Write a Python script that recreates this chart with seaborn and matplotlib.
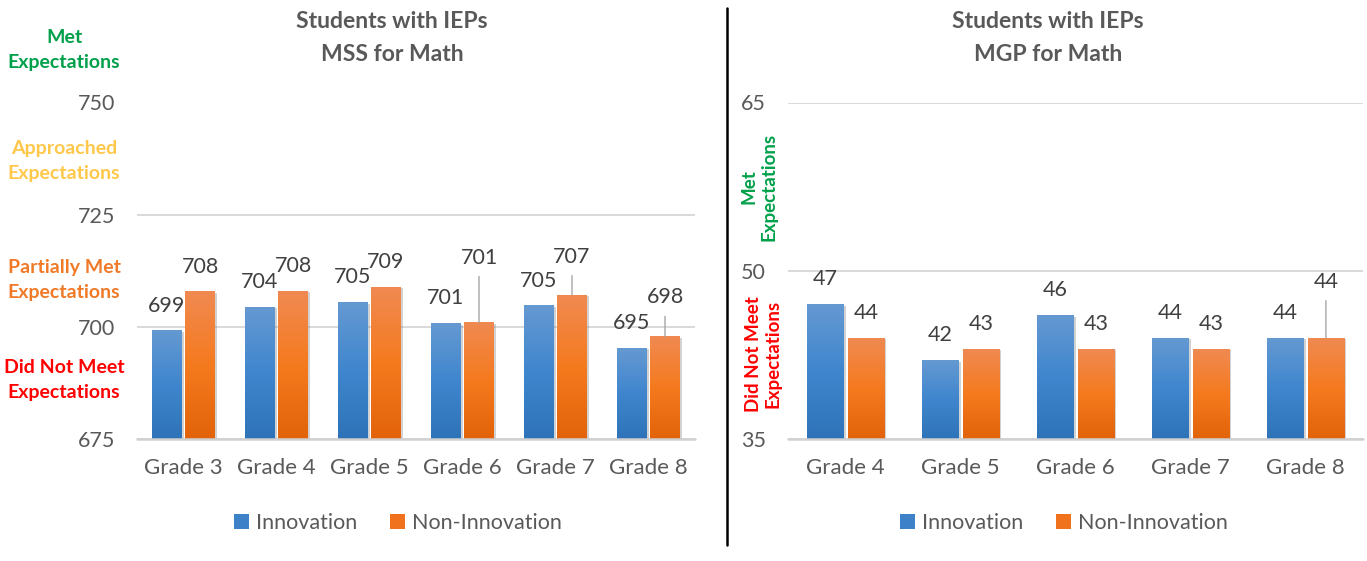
import numpy as np
import pandas as pd
import matplotlib
matplotlib.use("Agg")
import matplotlib.pyplot as plt
import seaborn as sns
from matplotlib.colors import LinearSegmentedColormap
from matplotlib.patches import Patch
from matplotlib.lines import Line2D
import matplotlib.patheffects as pe

# ---------------- data ----------------
series_names = ["Innovation", "Non-Innovation"]

mss_grades = ["Grade 3", "Grade 4", "Grade 5", "Grade 6", "Grade 7", "Grade 8"]
mss_innovation = [699.1, 704.4, 705.4, 700.7, 704.7, 695.3]
mss_non_innovation = [707.8, 708.0, 708.9, 700.9, 707.1, 697.8]
mss_ticks = [675, 700, 725, 750]

mgp_grades = ["Grade 4", "Grade 5", "Grade 6", "Grade 7", "Grade 8"]
mgp_innovation = [47, 42, 46, 44, 44]
mgp_non_innovation = [44, 43, 43, 43, 44]
mgp_ticks = [35, 50, 65]

# extra label lift (pixels) for labels moved up with leader lines
mss_lift_non = [0, 0, 0, 40, 13, 14]
mgp_lift_non = [0, 0, 0, 0, 31]

# ---------------- style ----------------
sns.set_theme(style="white")
plt.rcParams["font.family"] = ["Lato", "DejaVu Sans"]

GRAY = "#595959"
BLUE_STOPS = ["#2E73B8", "#3F86CE", "#6599D2"]
ORANGE_STOPS = ["#E2630A", "#F57A1E", "#F08A52"]
BLUE = "#3D82C8"
ORANGE = "#F0721C"

W, H = 1367, 561
fig = plt.figure(figsize=(W / 100, H / 100), dpi=100)

def fx(px):
    return px / W

def fy(py):
    return 1 - py / H

ax_bottom = fy(438.7)
ax_height = (438.7 - 102.5) / H
ax1 = fig.add_axes([fx(137), ax_bottom, fx(695) - fx(137), ax_height])
ax2 = fig.add_axes([fx(788), ax_bottom, fx(1363) - fx(788), ax_height])


def draw_panel(ax, grades, innov, non, ticks, lift_non, fmt):
    df = pd.DataFrame({
        "grade": grades * 2,
        "group": [series_names[0]] * len(grades) + [series_names[1]] * len(grades),
        "value": list(innov) + list(non),
    })
    sns.barplot(data=df, x="grade", y="value", hue="group", order=grades,
                hue_order=series_names, palette=[BLUE, ORANGE],
                width=0.71, gap=0.1, ax=ax, legend=False, errorbar=None,
                edgecolor="none", linewidth=0, zorder=3)
    ymin, ymax = ticks[0], ticks[-1]
    grad = np.linspace(0, 1, 256).reshape(-1, 1)
    for ci, (cont, stops) in enumerate(zip(ax.containers, [BLUE_STOPS, ORANGE_STOPS])):
        cmap = LinearSegmentedColormap.from_list("g%d" % ci, stops)
        for i, patch in enumerate(cont.patches):
            x0 = patch.get_x()
            w = patch.get_width()
            top = patch.get_y() + patch.get_height()
            patch.set_path_effects([pe.SimplePatchShadow(offset=(1.5, -1.0),
                                                         shadow_rgbFace="#7f7f7f",
                                                         alpha=0.35),
                                    pe.Normal()])
            ax.imshow(grad, extent=(x0, x0 + w, ymin, top), origin="lower",
                      cmap=cmap, aspect="auto", zorder=3.5, interpolation="bilinear")
            lift = 0 if ci == 0 else lift_non[i]
            off = (25 + lift) * 0.72
            label = fmt(top)
            kw = dict(xy=(x0 + w / 2, top), xytext=(0, off),
                      textcoords="offset points", ha="center", va="center",
                      fontsize=15.5, color="#404040", zorder=5)
            if lift > 0:
                kw["arrowprops"] = dict(arrowstyle="-", color="#A6A6A6",
                                        lw=1.0, shrinkA=4, shrinkB=0)
            ax.annotate(label, **kw)
    ax.set_xlim(-0.5, len(grades) - 0.5)
    ax.set_ylim(ymin, ymax)
    ax.set_yticks(ticks)
    ax.set_yticklabels([str(t) for t in ticks])
    ax.yaxis.grid(True, color="#D9D9D9", lw=1.4, zorder=0)
    ax.xaxis.grid(False)
    ax.set_axisbelow(True)
    for s in ax.spines.values():
        s.set_visible(False)
    ax.axhline(ymin, color="#D0D0D0", lw=1.8, zorder=4, clip_on=False)
    ax.tick_params(axis="y", length=0, pad=16, labelsize=15.5, labelcolor=GRAY)
    ax.tick_params(axis="x", length=0, pad=14, labelsize=16, labelcolor=GRAY)
    ax.set_xlabel("")
    ax.set_ylabel("")


draw_panel(ax1, mss_grades, mss_innovation, mss_non_innovation, mss_ticks,
           mss_lift_non, lambda v: f"{v:.0f}")
draw_panel(ax2, mgp_grades, mgp_innovation, mgp_non_innovation, mgp_ticks,
           mgp_lift_non, lambda v: f"{v:.0f}")

# titles
fig.text(fx(392), fy(38), "Students with IEPs\nMSS for Math", ha="center", va="center",
         fontsize=16.5, fontweight="bold", color=GRAY, linespacing=1.65)
fig.text(fx(1048), fy(38), "Students with IEPs\nMGP for Math", ha="center", va="center",
         fontsize=16.5, fontweight="bold", color=GRAY, linespacing=1.65)

# left performance bands
bands = [("Met\nExpectations", "#00A04A", 50),
         ("Approached\nExpectations", "#FFC84B", 161),
         ("Partially Met\nExpectations", "#F07A28", 280),
         ("Did Not Meet\nExpectations", "#FF0000", 380)]
for txt, col, yc in bands:
    fig.text(fx(64), fy(yc), txt, ha="center", va="center", fontsize=14,
             fontweight="bold", color=col, linespacing=1.6)

# right rotated bands
fig.text(fx(759), fy(187), "Met\nExpectations", ha="center", va="center",
         rotation=90, fontsize=13.5, fontweight="bold", color="#00A04A",
         linespacing=1.2)
fig.text(fx(763), fy(354), "Did Not Meet\nExpectations", ha="center", va="center",
         rotation=90, fontsize=13.5, fontweight="bold", color="#FF0000",
         linespacing=1.2)

# separator
fig.add_artist(Line2D([fx(727), fx(727)], [fy(545), fy(8)], color="black", lw=1.8,
                      transform=fig.transFigure))

# legends
handles = [Patch(facecolor=BLUE, edgecolor="none"), Patch(facecolor=ORANGE, edgecolor="none")]
for cx in (398, 1064):
    fig.legend(handles, series_names, loc="center", bbox_to_anchor=(fx(cx), fy(523)),
               ncol=2, frameon=False, fontsize=15.5, labelcolor=GRAY,
               handlelength=0.7, handleheight=0.7, handletextpad=0.35,
               columnspacing=1.5)

fig.savefig("out.png", dpi=100)
